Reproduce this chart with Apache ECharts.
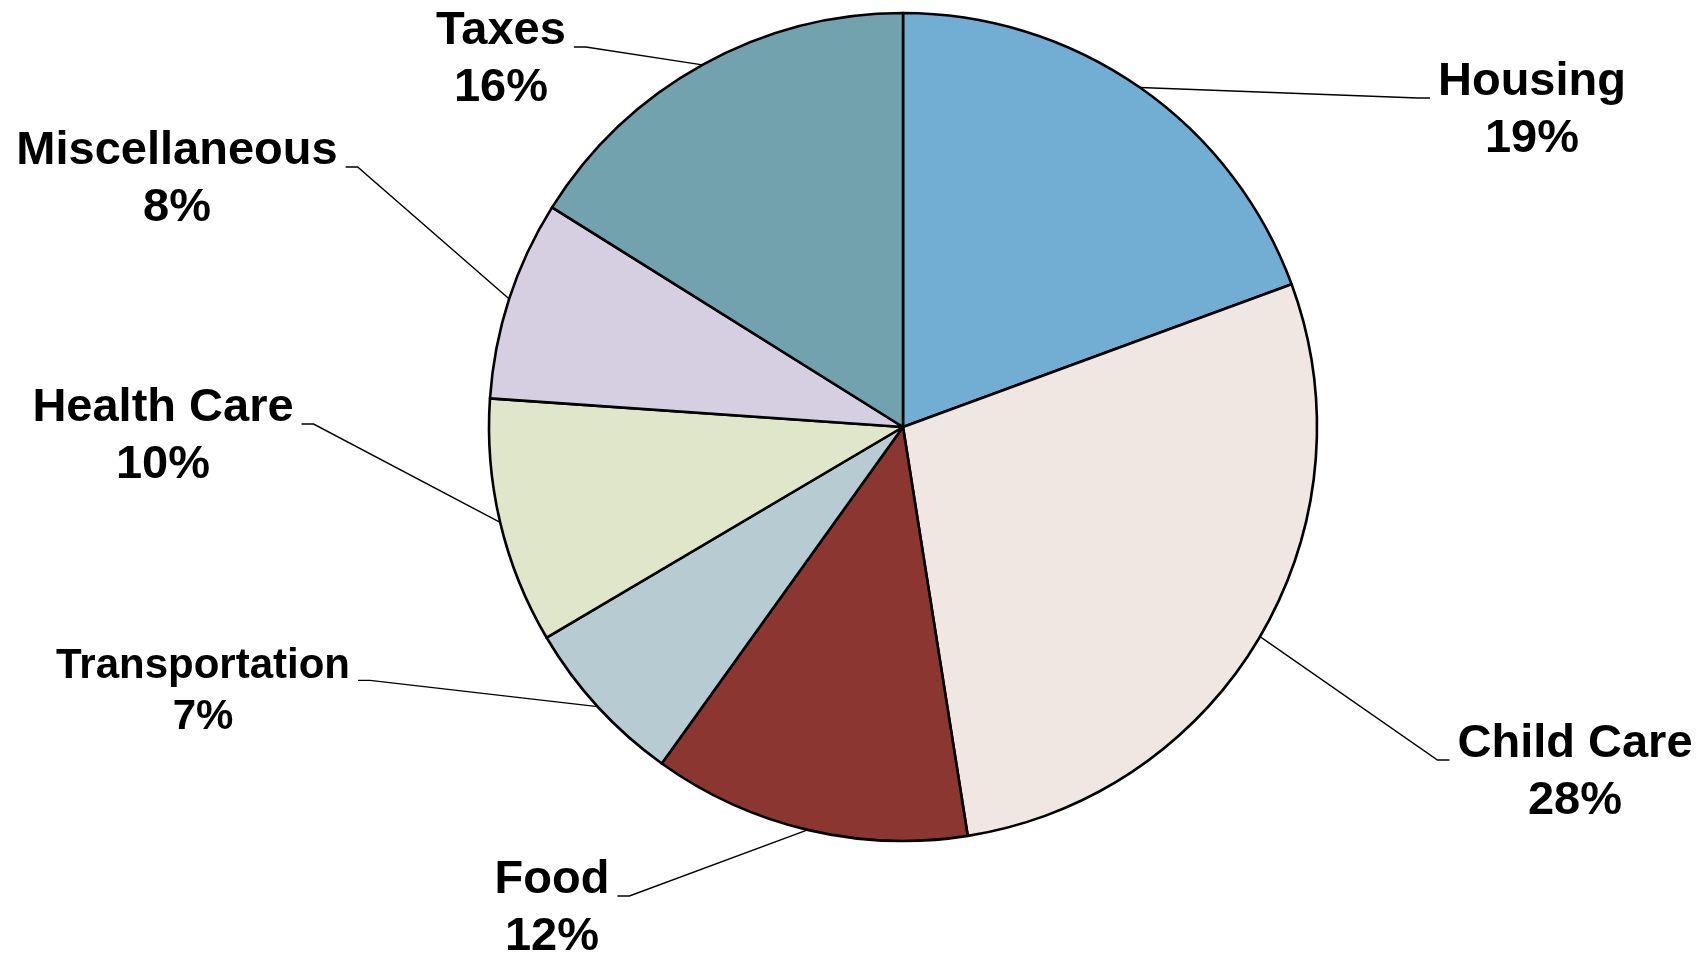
<!DOCTYPE html>
<html><head><meta charset="utf-8">
<script src="https://cdn.jsdelivr.net/npm/echarts@6/dist/echarts.min.js"></script>
<style>html,body{margin:0;padding:0;background:#fff}#chart{width:1707px;height:957px}</style>
</head><body><div id="chart"></div>
<script>
const categories = ['Housing', 'Child Care', 'Food', 'Transportation', 'Health Care', 'Miscellaneous', 'Taxes'];
const shares = [19.4, 28.1, 12.4, 6.6, 9.6, 7.8, 16.1];
const sliceColors = ['#72AED4', '#F0E6E2', '#8B3630', '#B7CBD2', '#DFE6C9', '#D6CFE1', '#72A2AE'];
const labelCenters = [[1532, 111], [1575, 773], [552, 909], [203, 692], [163, 437], [177, 180], [501, 60]];
const labelFontSizes = [47, 47, 47, 42, 47, 47, 47];

const CX = 903, CY = 427, R = 414;

function midAnglePoint(i) {
  const total = shares.reduce((a, b) => a + b, 0);
  let cum = 0;
  for (let k = 0; k < i; k++) cum += shares[k];
  const frac = (cum + shares[i] / 2) / total;
  const a = frac * 2 * Math.PI;
  return [CX + R * Math.sin(a), CY - R * Math.cos(a)];
}

const chart = echarts.init(document.getElementById('chart'), null, { renderer: 'canvas' });
chart.setOption({
  animation: false,
  backgroundColor: '#ffffff',
  series: [{
    type: 'pie',
    center: [CX, CY],
    radius: R,
    startAngle: 90,
    clockwise: true,
    avoidLabelOverlap: false,
    percentPrecision: 0,
    itemStyle: { borderColor: '#000', borderWidth: 2.6 },
    emphasis: { disabled: true },
    label: {
      show: true,
      position: 'outside',
      formatter: '{b}\n{d}%',
      fontFamily: '"Liberation Sans", Arial, sans-serif',
      fontWeight: 'bold',
      fontSize: 47,
      lineHeight: 57,
      color: '#000',
      align: 'center',
      overflow: 'none'
    },
    labelLine: { show: true, length: 20, length2: 20, smooth: false, lineStyle: { color: '#000', width: 1.4 } },
    labelLayout: function (p) {
      const i = p.dataIndex;
      const c = labelCenters[i];
      const fs = labelFontSizes[i];
      const lh = Math.round(fs * 1.21);
      const w = p.labelRect.width;
      const start = (p.labelLinePoints && p.labelLinePoints[0]) ? p.labelLinePoints[0] : midAnglePoint(i);
      const ly = c[1] - lh / 2 + 0.33 * fs;
      const right = c[0] > CX;
      const edge = right ? c[0] - w / 2 : c[0] + w / 2;
      const dir = right ? -1 : 1;
      return {
        x: c[0], y: c[1], align: 'center', verticalAlign: 'middle',
        labelLinePoints: [start, [edge + dir * 20, ly], [edge + dir * 8, ly]]
      };
    },
    data: categories.map((n, i) => ({
      name: n,
      value: shares[i],
      itemStyle: { color: sliceColors[i] },
      label: { fontSize: labelFontSizes[i], lineHeight: Math.round(labelFontSizes[i] * 1.21) }
    }))
  }]
});
</script>
</body></html>
